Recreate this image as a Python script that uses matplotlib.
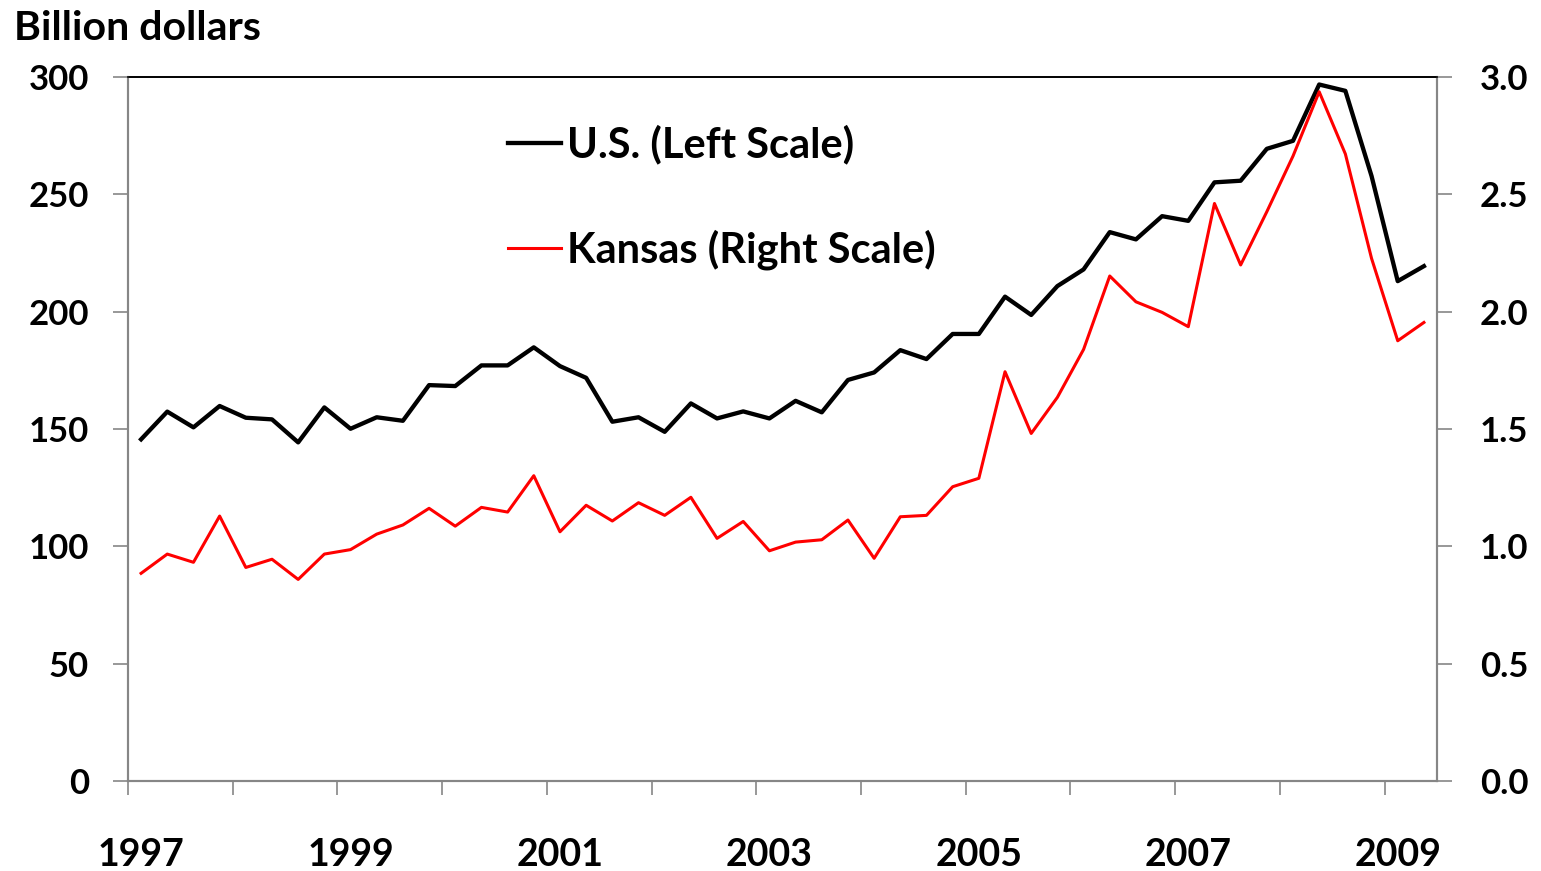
import numpy as np
import matplotlib as mpl
mpl.use('Agg')
import matplotlib.pyplot as plt
from matplotlib.ticker import FixedLocator

# quarterly data, 1997 Q1 .. 2009 Q2
quarters = [str(y) + ' Q' + str(q) for y in range(1997, 2010) for q in range(1, 5)][:50]

# U.S., billion dollars (left scale)
us = [145.6, 157.4, 150.7, 159.8, 154.8, 154.1, 144.3, 159.2, 150.1, 155.0,
      153.5, 168.7, 168.3, 177.1, 177.1, 184.8, 176.8, 171.8, 153.1, 155.0,
      148.8, 160.9, 154.5, 157.5, 154.5, 162.0, 157.1, 170.9, 174.1, 183.6,
      179.8, 190.5, 190.5, 206.4, 198.6, 210.9, 218.0, 233.9, 230.8, 240.7,
      238.7, 255.1, 255.8, 269.4, 272.8, 296.8, 294.1, 257.8, 213.0, 219.4]

# Kansas, billion dollars (right scale)
kansas = [0.885, 0.967, 0.932, 1.129, 0.910, 0.945, 0.859, 0.967, 0.986, 1.052,
          1.091, 1.162, 1.086, 1.166, 1.146, 1.301, 1.062, 1.175, 1.108, 1.186,
          1.132, 1.209, 1.034, 1.106, 0.981, 1.018, 1.028, 1.112, 0.949, 1.126,
          1.132, 1.254, 1.290, 1.744, 1.481, 1.635, 1.839, 2.152, 2.042, 1.997,
          1.936, 2.461, 2.199, 2.426, 2.663, 2.937, 2.672, 2.227, 1.876, 1.954]

year_labels = ['1997', '1999', '2001', '2003', '2005', '2007', '2009']

plt.rcParams['font.family'] = ['Lato', 'DejaVu Sans']
plt.rcParams['font.weight'] = 'bold'

gray = '#868686'
x = np.arange(len(quarters))

fig = plt.figure(figsize=(15.41, 8.71), dpi=100)
ax = fig.add_axes([128/1541, 1 - 781/871, (1437 - 128)/1541, (781 - 77)/871])
ax2 = ax.twinx()

l1, = ax.plot(x, us, color='black', lw=3.1, label='U.S. (Left Scale)')
l2, = ax2.plot(x, kansas, color='red', lw=2.2, label='Kansas (Right Scale)')

ax.set_xlim(-0.5, len(quarters) - 0.5)
ax.set_ylim(0, 300)
ax2.set_ylim(0, 3.0)
ax.set_yticks(np.arange(0, 301, 50))
ax2.set_yticks(np.arange(0, 3.01, 0.5))
ax2.set_yticklabels(['%.1f' % v for v in np.arange(0, 3.01, 0.5)])

# tick marks on year boundaries, labels under the first quarter of every 2nd year
ax.xaxis.set_major_locator(FixedLocator(np.arange(-0.5, len(quarters) - 1, 4)))
ax.xaxis.set_minor_locator(FixedLocator(np.arange(0, len(quarters), 8)))
ax.set_xticklabels([], minor=False)
ax.set_xticklabels(year_labels, minor=True)
ax.tick_params(axis='x', which='major', direction='out', length=10, width=1.2, color=gray)
ax.tick_params(axis='x', which='minor', length=0, pad=41, labelsize=27)
ax.tick_params(axis='y', direction='out', length=11, width=1.2, color=gray, pad=17, labelsize=25)
ax2.tick_params(axis='y', direction='out', length=11, width=1.2, color=gray, pad=20, labelsize=25)

for a in (ax, ax2):
    for s in ['left', 'bottom', 'right']:
        a.spines[s].set_color(gray)
        a.spines[s].set_linewidth(1.5)
    a.spines['top'].set_color('black')
    a.spines['top'].set_linewidth(1.2)

fig.text(14/1541, 1 - 28/871, 'Billion dollars', fontsize=29.5, fontweight='bold', va='center', ha='left')

ax.legend(handles=[l1, l2], loc='upper left', bbox_to_anchor=(0.262, 0.986), frameon=False,
          fontsize=30, handlelength=1.25, handletextpad=0.15, labelspacing=1.56)

fig.savefig('out.png', dpi=100)
